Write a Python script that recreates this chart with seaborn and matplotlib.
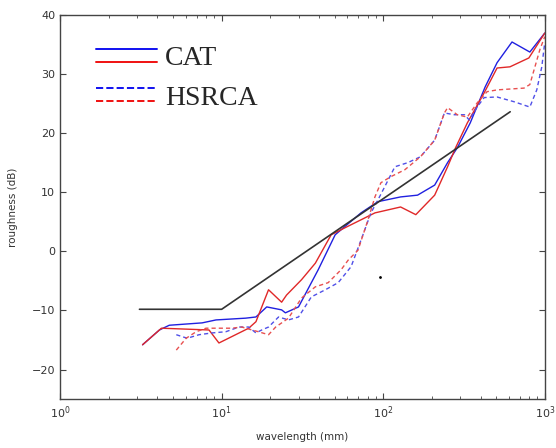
import matplotlib
matplotlib.use("Agg")
import matplotlib.pyplot as plt
from matplotlib.lines import Line2D
from matplotlib.legend_handler import HandlerBase
import numpy as np
import pandas as pd
import seaborn as sns

# CAT, blue
cat_b_x = [3.24, 4.12, 4.74, 7.57, 9.23, 14.1, 16.3, 19.0, 23.5, 24.8, 29.9, 39.6, 50.4,
           72.8, 92.7, 128, 163, 208, 250, 287, 345, 427, 506, 626, 807, 998]
cat_b_y = [-15.8, -13.3, -12.5, -12.1, -11.6, -11.3, -11.1, -9.4, -9.9, -10.4, -9.4, -3.1, 2.8,
           6.5, 8.4, 9.2, 9.5, 11.2, 15.0, 17.5, 21.7, 27.8, 31.9, 35.4, 33.7, 36.9]

# CAT, red
cat_r_x = [3.24, 4.24, 8.35, 9.62, 14.7, 16.3, 19.5, 23.5, 25.2, 31.2, 38.0, 47.6, 58.1,
           88.8, 128, 159, 208, 250, 280, 331, 421, 506, 608, 796, 998]
cat_r_y = [-15.8, -13.0, -13.3, -15.5, -13.0, -11.9, -6.5, -8.6, -7.4, -4.8, -2.0, 2.8, 4.0,
           6.5, 7.5, 6.2, 9.5, 14.3, 17.5, 21.7, 26.8, 31.0, 31.2, 32.7, 36.9]

# HSRCA, blue
hs_b_x = [5.24, 6.12, 7.25, 8.71, 10.6, 12.8, 14.7, 16.3, 17.7, 19.5, 22.5, 25.9, 29.9, 35.9,
          43.8, 52.6, 63.2, 72.8, 83.9, 92.7, 102, 118, 142, 170, 208, 239, 275, 318, 341,
          381, 421, 506, 644, 807, 891, 957, 998]
hs_b_y = [-14.1, -14.7, -14.1, -13.8, -13.6, -12.8, -12.8, -13.8, -13.3, -12.8, -11.1, -11.6,
          -11.1, -7.7, -6.5, -5.3, -2.6, 1.9, 6.5, 8.7, 10.9, 14.3, 15.0, 16.0, 18.8, 23.4,
          23.1, 23.1, 22.2, 24.4, 26.0, 26.1, 25.3, 24.4, 27.3, 31.2, 35.3]

# HSRCA, red
hs_r_x = [5.24, 6.03, 6.95, 8.0, 9.23, 11.6, 13.3, 15.4, 16.9, 19.5, 21.6, 25.9, 31.2, 38.0,
          45.6, 54.9, 60.6, 69.8, 80.4, 88.8, 96.7, 111, 136, 170, 208, 239, 250, 287, 331,
          381, 439, 506, 742, 807, 931, 998]
hs_r_y = [-16.7, -14.7, -13.6, -13.0, -13.0, -13.0, -12.8, -13.3, -13.6, -14.1, -12.8, -11.3,
          -7.9, -6.0, -5.3, -3.1, -1.5, 0.2, 5.3, 9.2, 11.6, 12.6, 13.8, 16.0, 18.8, 23.4,
          24.3, 23.1, 22.7, 25.1, 27.0, 27.3, 27.6, 28.2, 34.1, 36.3]

# reference line
ref_x = [3.1, 10, 610]
ref_y = [-9.8, -9.8, 23.6]

# stray dot in the scan
dot_x = [96]
dot_y = [-4.3]

frames = []
for name, xs, ys in [("cat_b", cat_b_x, cat_b_y), ("cat_r", cat_r_x, cat_r_y),
                     ("hs_b", hs_b_x, hs_b_y), ("hs_r", hs_r_x, hs_r_y)]:
    frames.append(pd.DataFrame({"wavelength": xs, "roughness": ys, "series": name}))
df = pd.concat(frames, ignore_index=True)

pal = {"cat_b": "#2020e0", "cat_r": "#e02828", "hs_b": "#5050e8", "hs_r": "#e85050"}
dash = {"cat_b": "", "cat_r": "", "hs_b": (3, 2.2), "hs_r": (3, 2.2)}

sns.set_style("ticks")
fig = plt.figure(figsize=(5.56, 4.48), dpi=100)
ax = fig.add_axes([0.108, 0.109, 0.872, 0.858])

sns.lineplot(data=df, x="wavelength", y="roughness", hue="series", style="series",
             palette=pal, dashes=dash, estimator=None, sort=False, legend=False,
             linewidth=1.0, ax=ax)
sns.lineplot(x=ref_x, y=ref_y, color="#333333", linewidth=1.2, estimator=None, sort=False, ax=ax)
ax.plot(dot_x, dot_y, ".", color="black", ms=2)

ax.set_xscale("log")
ax.set_xlim(1, 1000)
ax.set_ylim(-25, 40)
ax.set_yticks([-20, -10, 0, 10, 20, 30, 40])
ax.tick_params(which="both", direction="in", top=True, right=True, colors="#444444",
               labelsize=8, labelcolor="#333333")
ax.tick_params(which="major", length=4, width=0.8)
ax.tick_params(which="minor", length=2.5, width=0.6)
for s in ax.spines.values():
    s.set_color("#444444")
    s.set_linewidth(1.0)
ax.set_xlabel("wavelength (mm)", fontsize=7.5, color="#333333", labelpad=8)
ax.set_ylabel("roughness (dB)", fontsize=7.5, color="#333333", labelpad=10)


class PairHandler(HandlerBase):
    # two lines stacked, top one first
    def create_artists(self, legend, orig_handle, xdescent, ydescent, width, height,
                       fontsize, trans):
        out = []
        for h, frac in zip(orig_handle, (0.85, 0.2)):
            yy = frac * height - ydescent
            ln = Line2D([-xdescent, width - xdescent], [yy, yy], color=h.get_color(),
                        linestyle=h.get_linestyle(), linewidth=h.get_linewidth())
            ln.set_transform(trans)
            out.append(ln)
        return out


h_cat = (Line2D([], [], color="#1010f0", lw=1.4), Line2D([], [], color="#f01010", lw=1.4))
h_hs = (Line2D([], [], color="#1010f0", lw=1.4, ls=(0, (3.5, 3))),
        Line2D([], [], color="#f01010", lw=1.4, ls=(0, (3.5, 3))))
ax.legend([h_cat, h_hs], ["CAT", "HSRCA"], handler_map={tuple: PairHandler()},
          loc="upper left", bbox_to_anchor=(0.045, 0.955), frameon=False,
          prop={"family": "Liberation Serif", "size": 20}, handlelength=2.2,
          handletextpad=0.3, labelspacing=0.5, borderpad=0)

fig.savefig("out.png", dpi=100)
